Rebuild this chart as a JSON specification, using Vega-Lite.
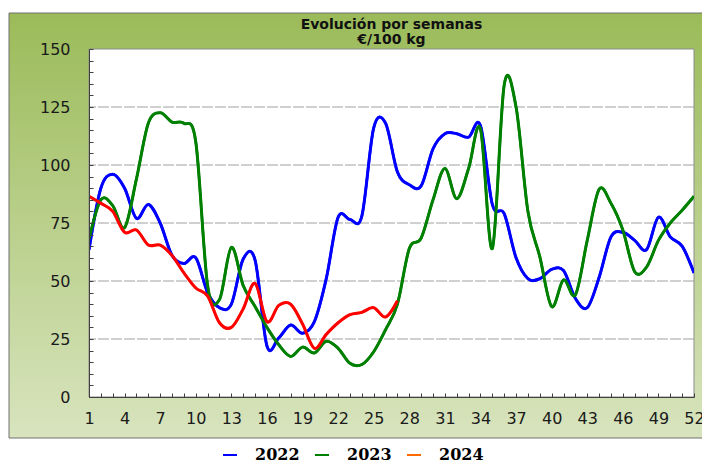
{
  "$schema": "https://vega.github.io/schema/vega-lite/v6.json",
  "width": 605,
  "height": 348,
  "autosize": {"type": "none"},
  "padding": {"left": 89, "top": 49, "right": 8, "bottom": 66},
  "background": "white",
  "config": {"view": {"stroke": null}},
  "title": {
    "text": ["Evolución por semanas", "€/100 kg"],
    "font": "DejaVu Sans",
    "fontSize": 14,
    "fontWeight": "bold",
    "lineHeight": 15,
    "color": "#111111",
    "anchor": "middle",
    "frame": "group",
    "offset": 4,
    "dy": 38
  },
  "datasets": {
    "grid": [{"value": 25}, {"value": 50}, {"value": 75}, {"value": 100}, {"value": 125}],
    "prices": [
      {"week": 1, "year": "2022", "value": 63.5},
      {"week": 2, "year": "2022", "value": 90},
      {"week": 3, "year": "2022", "value": 96},
      {"week": 4, "year": "2022", "value": 90},
      {"week": 5, "year": "2022", "value": 77},
      {"week": 6, "year": "2022", "value": 83},
      {"week": 7, "year": "2022", "value": 75},
      {"week": 8, "year": "2022", "value": 61},
      {"week": 9, "year": "2022", "value": 57.5},
      {"week": 10, "year": "2022", "value": 60},
      {"week": 11, "year": "2022", "value": 45},
      {"week": 12, "year": "2022", "value": 38.5},
      {"week": 13, "year": "2022", "value": 40},
      {"week": 14, "year": "2022", "value": 59.5},
      {"week": 15, "year": "2022", "value": 59},
      {"week": 16, "year": "2022", "value": 22},
      {"week": 17, "year": "2022", "value": 25.5},
      {"week": 18, "year": "2022", "value": 31},
      {"week": 19, "year": "2022", "value": 27.5},
      {"week": 20, "year": "2022", "value": 32.5},
      {"week": 21, "year": "2022", "value": 51},
      {"week": 22, "year": "2022", "value": 77.5},
      {"week": 23, "year": "2022", "value": 76.5},
      {"week": 24, "year": "2022", "value": 78},
      {"week": 25, "year": "2022", "value": 116},
      {"week": 26, "year": "2022", "value": 118},
      {"week": 27, "year": "2022", "value": 97},
      {"week": 28, "year": "2022", "value": 91.5},
      {"week": 29, "year": "2022", "value": 91},
      {"week": 30, "year": "2022", "value": 107},
      {"week": 31, "year": "2022", "value": 113.5},
      {"week": 32, "year": "2022", "value": 113.5},
      {"week": 33, "year": "2022", "value": 112},
      {"week": 34, "year": "2022", "value": 117},
      {"week": 35, "year": "2022", "value": 83},
      {"week": 36, "year": "2022", "value": 79},
      {"week": 37, "year": "2022", "value": 60},
      {"week": 38, "year": "2022", "value": 51},
      {"week": 39, "year": "2022", "value": 51},
      {"week": 40, "year": "2022", "value": 55},
      {"week": 41, "year": "2022", "value": 54.5},
      {"week": 42, "year": "2022", "value": 42.5},
      {"week": 43, "year": "2022", "value": 38.5},
      {"week": 44, "year": "2022", "value": 51.5},
      {"week": 45, "year": "2022", "value": 69},
      {"week": 46, "year": "2022", "value": 71},
      {"week": 47, "year": "2022", "value": 67.5},
      {"week": 48, "year": "2022", "value": 63.5},
      {"week": 49, "year": "2022", "value": 77.5},
      {"week": 50, "year": "2022", "value": 69},
      {"week": 51, "year": "2022", "value": 65},
      {"week": 52, "year": "2022", "value": 53.5},
      {"week": 1, "year": "2023", "value": 68},
      {"week": 2, "year": "2023", "value": 85},
      {"week": 3, "year": "2023", "value": 82.5},
      {"week": 4, "year": "2023", "value": 73},
      {"week": 5, "year": "2023", "value": 94},
      {"week": 6, "year": "2023", "value": 118},
      {"week": 7, "year": "2023", "value": 122.5},
      {"week": 8, "year": "2023", "value": 118.5},
      {"week": 9, "year": "2023", "value": 118},
      {"week": 10, "year": "2023", "value": 110},
      {"week": 11, "year": "2023", "value": 48},
      {"week": 12, "year": "2023", "value": 42},
      {"week": 13, "year": "2023", "value": 64.5},
      {"week": 14, "year": "2023", "value": 48},
      {"week": 15, "year": "2023", "value": 39},
      {"week": 16, "year": "2023", "value": 30},
      {"week": 17, "year": "2023", "value": 22.5},
      {"week": 18, "year": "2023", "value": 17.5},
      {"week": 19, "year": "2023", "value": 21.5},
      {"week": 20, "year": "2023", "value": 19},
      {"week": 21, "year": "2023", "value": 24},
      {"week": 22, "year": "2023", "value": 21},
      {"week": 23, "year": "2023", "value": 14.5},
      {"week": 24, "year": "2023", "value": 14},
      {"week": 25, "year": "2023", "value": 19.5},
      {"week": 26, "year": "2023", "value": 29},
      {"week": 27, "year": "2023", "value": 40},
      {"week": 28, "year": "2023", "value": 64},
      {"week": 29, "year": "2023", "value": 68.5},
      {"week": 30, "year": "2023", "value": 85},
      {"week": 31, "year": "2023", "value": 98.5},
      {"week": 32, "year": "2023", "value": 85.5},
      {"week": 33, "year": "2023", "value": 98.5},
      {"week": 34, "year": "2023", "value": 115.5},
      {"week": 35, "year": "2023", "value": 64},
      {"week": 36, "year": "2023", "value": 134.5},
      {"week": 37, "year": "2023", "value": 125},
      {"week": 38, "year": "2023", "value": 80},
      {"week": 39, "year": "2023", "value": 60.5},
      {"week": 40, "year": "2023", "value": 39},
      {"week": 41, "year": "2023", "value": 50.5},
      {"week": 42, "year": "2023", "value": 44},
      {"week": 43, "year": "2023", "value": 67.5},
      {"week": 44, "year": "2023", "value": 89.5},
      {"week": 45, "year": "2023", "value": 83.5},
      {"week": 46, "year": "2023", "value": 72},
      {"week": 47, "year": "2023", "value": 54},
      {"week": 48, "year": "2023", "value": 56},
      {"week": 49, "year": "2023", "value": 67.5},
      {"week": 50, "year": "2023", "value": 75},
      {"week": 51, "year": "2023", "value": 80.5},
      {"week": 52, "year": "2023", "value": 86.5},
      {"week": 1, "year": "2024", "value": 86.5},
      {"week": 2, "year": "2024", "value": 83.5},
      {"week": 3, "year": "2024", "value": 80},
      {"week": 4, "year": "2024", "value": 71},
      {"week": 5, "year": "2024", "value": 72},
      {"week": 6, "year": "2024", "value": 65.5},
      {"week": 7, "year": "2024", "value": 65.5},
      {"week": 8, "year": "2024", "value": 61},
      {"week": 9, "year": "2024", "value": 53.5},
      {"week": 10, "year": "2024", "value": 47},
      {"week": 11, "year": "2024", "value": 43.5},
      {"week": 12, "year": "2024", "value": 32},
      {"week": 13, "year": "2024", "value": 30},
      {"week": 14, "year": "2024", "value": 38},
      {"week": 15, "year": "2024", "value": 49},
      {"week": 16, "year": "2024", "value": 32.5},
      {"week": 17, "year": "2024", "value": 39.5},
      {"week": 18, "year": "2024", "value": 40},
      {"week": 19, "year": "2024", "value": 31.5},
      {"week": 20, "year": "2024", "value": 21},
      {"week": 21, "year": "2024", "value": 27},
      {"week": 22, "year": "2024", "value": 32},
      {"week": 23, "year": "2024", "value": 35.5},
      {"week": 24, "year": "2024", "value": 36.5},
      {"week": 25, "year": "2024", "value": 38.5},
      {"week": 26, "year": "2024", "value": 34.5},
      {"week": 27, "year": "2024", "value": 41.5}
    ]
  },
  "layer": [
    {
      "data": {"values": [{}]},
      "mark": {
        "type": "rect",
        "x": -80, "x2": 625, "y": -36, "y2": 389,
        "fill": {
          "gradient": "linear", "x1": 0, "y1": 0, "x2": 0, "y2": 1,
          "stops": [
            {"offset": 0, "color": "#9BBB59"},
            {"offset": 1, "color": "#D8E4BE"}
          ]
        },
        "stroke": "#707070",
        "strokeWidth": 1
      }
    },
    {
      "data": {"values": [{}]},
      "mark": {
        "type": "rect",
        "x": 0, "x2": 605, "y": 0, "y2": 348,
        "fill": "white",
        "stroke": "#8c8c8c",
        "strokeWidth": 1
      }
    },
    {
      "encoding": {
        "y": {
          "field": "value", "type": "quantitative",
          "scale": {"domain": [0, 150], "nice": false},
          "axis": {
            "title": null,
            "values": [0,5,10,15,20,25,30,35,40,45,50,55,60,65,70,75,80,85,90,95,100,105,110,115,120,125,130,135,140,145,150],
            "labelExpr": "datum.value % 25 == 0 ? datum.label : ''",
            "grid": false,
            "tickSize": -4,
            "labelPadding": 23,
            "domainColor": "#404040",
            "tickColor": "#404040",
            "labelFont": "DejaVu Sans",
            "labelFontSize": 16,
            "labelColor": "#1a1a1a",
            "labelOverlap": false,
            "labelBound": false,
            "zindex": 1
          }
        }
      },
      "resolve": {"scale": {"color": "independent"}},
      "layer": [
        {
          "data": {"name": "grid"},
          "mark": {"type": "rule", "stroke": "#a0a0a0", "strokeWidth": 1, "strokeDash": [11, 2]}
        },
        {
          "data": {"name": "prices"},
          "mark": {"type": "line", "interpolate": "cardinal", "strokeWidth": 2.5, "clip": true},
          "encoding": {
            "x": {
              "field": "week", "type": "quantitative",
              "scale": {"domain": [1, 52], "nice": false, "zero": false},
              "axis": {
                "title": null,
                "values": [1,2,3,4,5,6,7,8,9,10,11,12,13,14,15,16,17,18,19,20,21,22,23,24,25,26,27,28,29,30,31,32,33,34,35,36,37,38,39,40,41,42,43,44,45,46,47,48,49,50,51,52],
                "labelExpr": "(datum.value - 1) % 3 == 0 ? datum.label : ''",
                "grid": false,
                "tickSize": -4,
                "labelPadding": 17,
                "domainColor": "#404040",
                "tickColor": "#404040",
                "labelFont": "DejaVu Sans",
                "labelFontSize": 16,
                "labelColor": "#1a1a1a",
                "labelFlush": false,
                "labelOverlap": false,
                "zindex": 1
              }
            },
            "color": {
              "field": "year", "type": "nominal",
              "scale": {"domain": ["2022", "2023", "2024"], "range": ["#0000FF", "#008000", "#FF6A00"]},
              "legend": {
                "title": null,
                "orient": "none",
                "legendX": 133,
                "legendY": 398,
                "direction": "horizontal",
                "padding": 0,
                "symbolType": "stroke",
                "symbolSize": 196,
                "symbolStrokeWidth": 2,
                "labelFont": "DejaVu Serif",
                "labelFontWeight": "bold",
                "labelFontSize": 16,
                "labelColor": "black",
                "labelOffset": 17,
                "columnPadding": 11
              }
            }
          }
        },
        {
          "data": {"name": "prices"},
          "mark": {"type": "line", "interpolate": "cardinal", "strokeWidth": 3, "clip": true},
          "encoding": {
            "x": {
              "field": "week", "type": "quantitative",
              "scale": {"domain": [1, 52], "nice": false, "zero": false},
              "axis": {
                "title": null,
                "values": [1,2,3,4,5,6,7,8,9,10,11,12,13,14,15,16,17,18,19,20,21,22,23,24,25,26,27,28,29,30,31,32,33,34,35,36,37,38,39,40,41,42,43,44,45,46,47,48,49,50,51,52],
                "labelExpr": "(datum.value - 1) % 3 == 0 ? datum.label : ''",
                "grid": false,
                "tickSize": -4,
                "labelPadding": 17,
                "domainColor": "#404040",
                "tickColor": "#404040",
                "labelFont": "DejaVu Sans",
                "labelFontSize": 16,
                "labelColor": "#1a1a1a",
                "labelFlush": false,
                "labelOverlap": false,
                "zindex": 1
              }
            },
            "color": {
              "field": "year", "type": "nominal",
              "scale": {"domain": ["2022", "2023", "2024"], "range": ["#0000FF", "#008000", "#FF0000"]},
              "legend": null
            }
          }
        }
      ]
    }
  ]
}
